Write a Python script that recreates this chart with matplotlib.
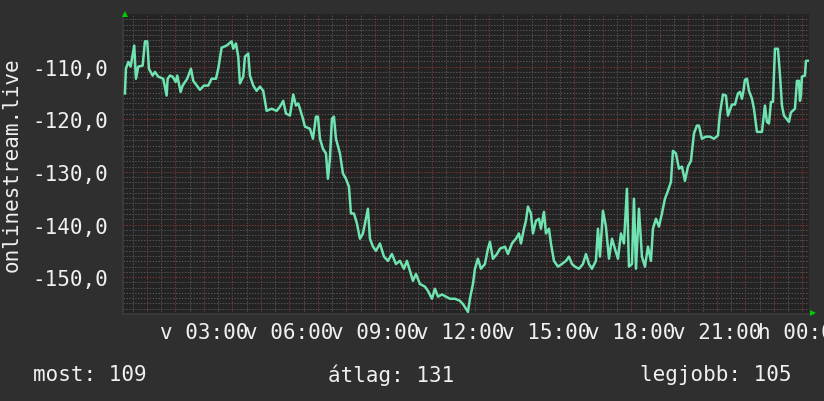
# Libraries
import numpy as np
import matplotlib.pyplot as plt

# Data (hours since midnight, value)
hours = [0.228, 0.263, 0.344, 0.428, 0.554, 0.614, 0.695, 0.849, 0.930, 1.011,
         1.070, 1.200, 1.281, 1.396, 1.572, 1.691, 1.726, 1.807, 1.902, 2.007,
         2.063, 2.182, 2.253, 2.414, 2.544, 2.625, 2.860, 3.000, 3.151, 3.270,
         3.421, 3.502, 3.621, 3.796, 3.972, 4.028, 4.123, 4.204, 4.263, 4.379,
         4.439, 4.554, 4.614, 4.730, 4.849, 4.965, 5.081, 5.200, 5.375, 5.551,
         5.667, 5.782, 5.877, 6.018, 6.133, 6.228, 6.309, 6.368, 6.474, 6.544,
         6.719, 6.825, 6.930, 7.000, 7.070, 7.175, 7.281, 7.351, 7.421, 7.491,
         7.561, 7.632, 7.772, 7.877, 7.982, 8.088, 8.158, 8.263, 8.368, 8.474,
         8.579, 8.684, 8.754, 8.825, 8.930, 9.035, 9.175, 9.316, 9.456, 9.596,
         9.737, 9.877, 10.018, 10.123, 10.228, 10.333, 10.439, 10.579, 10.754, 10.860,
         11.000, 11.105, 11.211, 11.351, 11.491, 11.632, 11.807, 11.982, 12.088, 12.193,
         12.263, 12.333, 12.439, 12.509, 12.614, 12.719, 12.860, 12.965, 13.035, 13.140,
         13.281, 13.386, 13.561, 13.667, 13.807, 13.947, 14.053, 14.123, 14.228, 14.298,
         14.368, 14.474, 14.544, 14.649, 14.754, 14.825, 14.930, 15.000, 15.105, 15.175,
         15.281, 15.421, 15.561, 15.702, 15.807, 15.912, 16.018, 16.158, 16.298, 16.404,
         16.509, 16.614, 16.754, 16.825, 16.895, 17.000, 17.105, 17.211, 17.316, 17.421,
         17.526, 17.632, 17.737, 17.842, 17.912, 18.018, 18.088, 18.158, 18.263, 18.368,
         18.474, 18.579, 18.684, 18.754, 18.860, 18.965, 19.070, 19.175, 19.281, 19.386,
         19.456, 19.561, 19.667, 19.772, 19.877, 19.982, 20.088, 20.193, 20.298, 20.368,
         20.474, 20.614, 20.754, 20.895, 21.035, 21.105, 21.211, 21.316, 21.386, 21.526,
         21.632, 21.737, 21.807, 21.877, 21.930, 21.982, 22.053, 22.123, 22.228, 22.298,
         22.404, 22.579, 22.684, 22.754, 22.825, 22.895, 22.965, 23.035, 23.140, 23.211,
         23.281, 23.351, 23.526, 23.596, 23.737, 23.807, 23.877, 23.912, 23.947, 23.982,
         24.088, 24.123, 24.211]
values = [-115.1, -110.4, -109.1, -110.0, -106.0, -112.3, -110.0, -109.8, -105.2, -105.2,
          -110.4, -111.7, -111.0, -111.9, -112.3, -115.5, -112.3, -111.7, -111.9, -112.9,
          -111.7, -114.8, -113.6, -112.3, -110.4, -112.7, -114.4, -113.6, -113.6, -112.3,
          -112.3, -110.4, -106.4, -106.0, -105.2, -106.6, -105.6, -108.1, -113.2, -111.9,
          -108.1, -107.5, -111.7, -113.6, -114.6, -113.8, -114.6, -118.4, -118.0, -118.4,
          -117.6, -116.5, -118.9, -119.3, -115.3, -117.4, -117.0, -118.0, -119.9, -121.4,
          -121.8, -123.7, -119.5, -119.5, -123.7, -125.6, -126.5, -131.3, -127.5, -119.9,
          -119.5, -123.7, -126.5, -130.3, -131.3, -132.8, -137.9, -137.9, -139.8, -142.7,
          -141.7, -138.9, -137.0, -142.7, -144.2, -145.0, -143.6, -146.1, -146.9, -145.6,
          -147.5, -146.9, -148.4, -146.9, -148.8, -150.7, -149.4, -151.3, -151.8, -152.6,
          -154.1, -152.2, -153.7, -153.3, -153.7, -154.1, -154.1, -154.5, -155.1, -156.0,
          -156.6, -154.1, -151.3, -148.4, -146.5, -148.4, -147.5, -144.6, -143.3, -146.5,
          -145.6, -144.6, -144.2, -145.6, -143.6, -142.7, -141.7, -143.6, -140.8, -139.3,
          -136.6, -137.9, -141.7, -139.3, -138.9, -140.8, -137.6, -141.7, -140.8, -143.6,
          -146.9, -148.0, -147.5, -146.9, -146.1, -147.5, -148.0, -148.4, -147.5, -145.6,
          -147.5, -148.4, -146.9, -140.8, -146.1, -137.4, -140.4, -146.5, -142.7, -144.6,
          -146.5, -141.7, -143.6, -133.2, -148.0, -147.5, -135.1, -148.4, -137.0, -146.1,
          -148.0, -144.2, -146.9, -140.8, -138.9, -140.4, -137.9, -135.1, -133.6, -131.9,
          -126.0, -126.5, -129.4, -129.0, -131.7, -129.0, -127.9, -122.7, -121.2, -121.2,
          -123.7, -123.3, -123.3, -123.7, -123.1, -118.9, -115.3, -115.5, -119.3, -117.2,
          -117.2, -115.1, -114.8, -116.1, -114.6, -112.5, -112.3, -114.6, -116.1, -118.0,
          -122.4, -122.4, -117.4, -120.5, -120.8, -116.7, -116.7, -106.6, -106.6, -111.5,
          -117.4, -119.3, -120.5, -118.7, -118.0, -112.7, -112.7, -116.5, -115.5, -111.9,
          -111.7, -108.9, -108.9]

y_ticks = [-150, -140, -130, -120, -110]
x_ticks = [3, 6, 9, 12, 15, 18, 21, 24]
x_labels = ['v 03:00', 'v 06:00', 'v 09:00', 'v 12:00', 'v 15:00', 'v 18:00', 'v 21:00', 'h 00:00']
y_title = 'onlinestream.live'
now_val, avg_val, best_val = 109, 131, 105

# Visualization
bg = '#2f2f2f'
canvas = '#232323'
txt = '#f0f0f0'
font = 'DejaVu Sans Mono'

fig = plt.figure(figsize=(8.24, 4.02), dpi=100, facecolor=bg)
ax = fig.add_axes([123 / 824, 87 / 402, 686 / 824, 300 / 402], facecolor=canvas)
ax.set_xlim(0.16, 24.23)
ax.set_ylim(-157, -100)

# grid
for h in np.arange(0.5, 24.3, 0.5):
    major = abs(h - round(h)) < 1e-6
    ax.axvline(h, color='#7a3434' if major else '#525252', lw=0.75,
               ls=(0, (1.4, 1.4)), zorder=1)
for v in range(-156, -100):
    major = v % 10 == 0
    ax.axhline(v, color='#7a3434' if major else '#525252', lw=0.75,
               ls=(0, (1.4, 1.4)), zorder=1)

ax.plot(hours, values, color='#6fe3b0', lw=1.8, zorder=3)

ax.set_yticks(y_ticks)
ax.set_yticklabels([f'{v:.1f}'.replace('.', ',') for v in y_ticks])
ax.set_xticks(x_ticks)
ax.set_xticklabels(x_labels)
ax.tick_params(axis='both', colors=txt, labelsize=15, length=0)
ax.tick_params(axis='y', pad=10.5)
ax.tick_params(axis='x', pad=6)
for lab in ax.get_xticklabels() + ax.get_yticklabels():
    lab.set_fontfamily(font)
for s in ['top', 'right']:
    ax.spines[s].set_visible(False)
for s in ['left', 'bottom']:
    ax.spines[s].set_color('#3c3c3c')
    ax.spines[s].set_linewidth(1.2)

ax.set_ylabel(y_title, color=txt, fontsize=15, family=font)
ax.yaxis.set_label_coords(-0.148, 0.5)

# axis arrows
ax.plot([0.003], [1.0], marker='^', color='#00cc00', ms=5, transform=ax.transAxes,
        clip_on=False, zorder=5, markeredgewidth=0)
fig.lines.append(plt.Line2D([813 / 824], [88 / 402], marker='>', color='#00cc00',
                            ms=5, markeredgewidth=0, transform=fig.transFigure))

# footer
fig.text(33 / 824, 27 / 402, f'most: {now_val}', color=txt, fontsize=15, family=font, va='center')
fig.text(328 / 824, 27 / 402, f'átlag: {avg_val}', color=txt, fontsize=15, family=font, va='center')
fig.text(791 / 824, 27 / 402, f'legjobb: {best_val}', color=txt, fontsize=15, family=font,
         va='center', ha='right')

fig.savefig('out.png', dpi=100, facecolor=bg)
